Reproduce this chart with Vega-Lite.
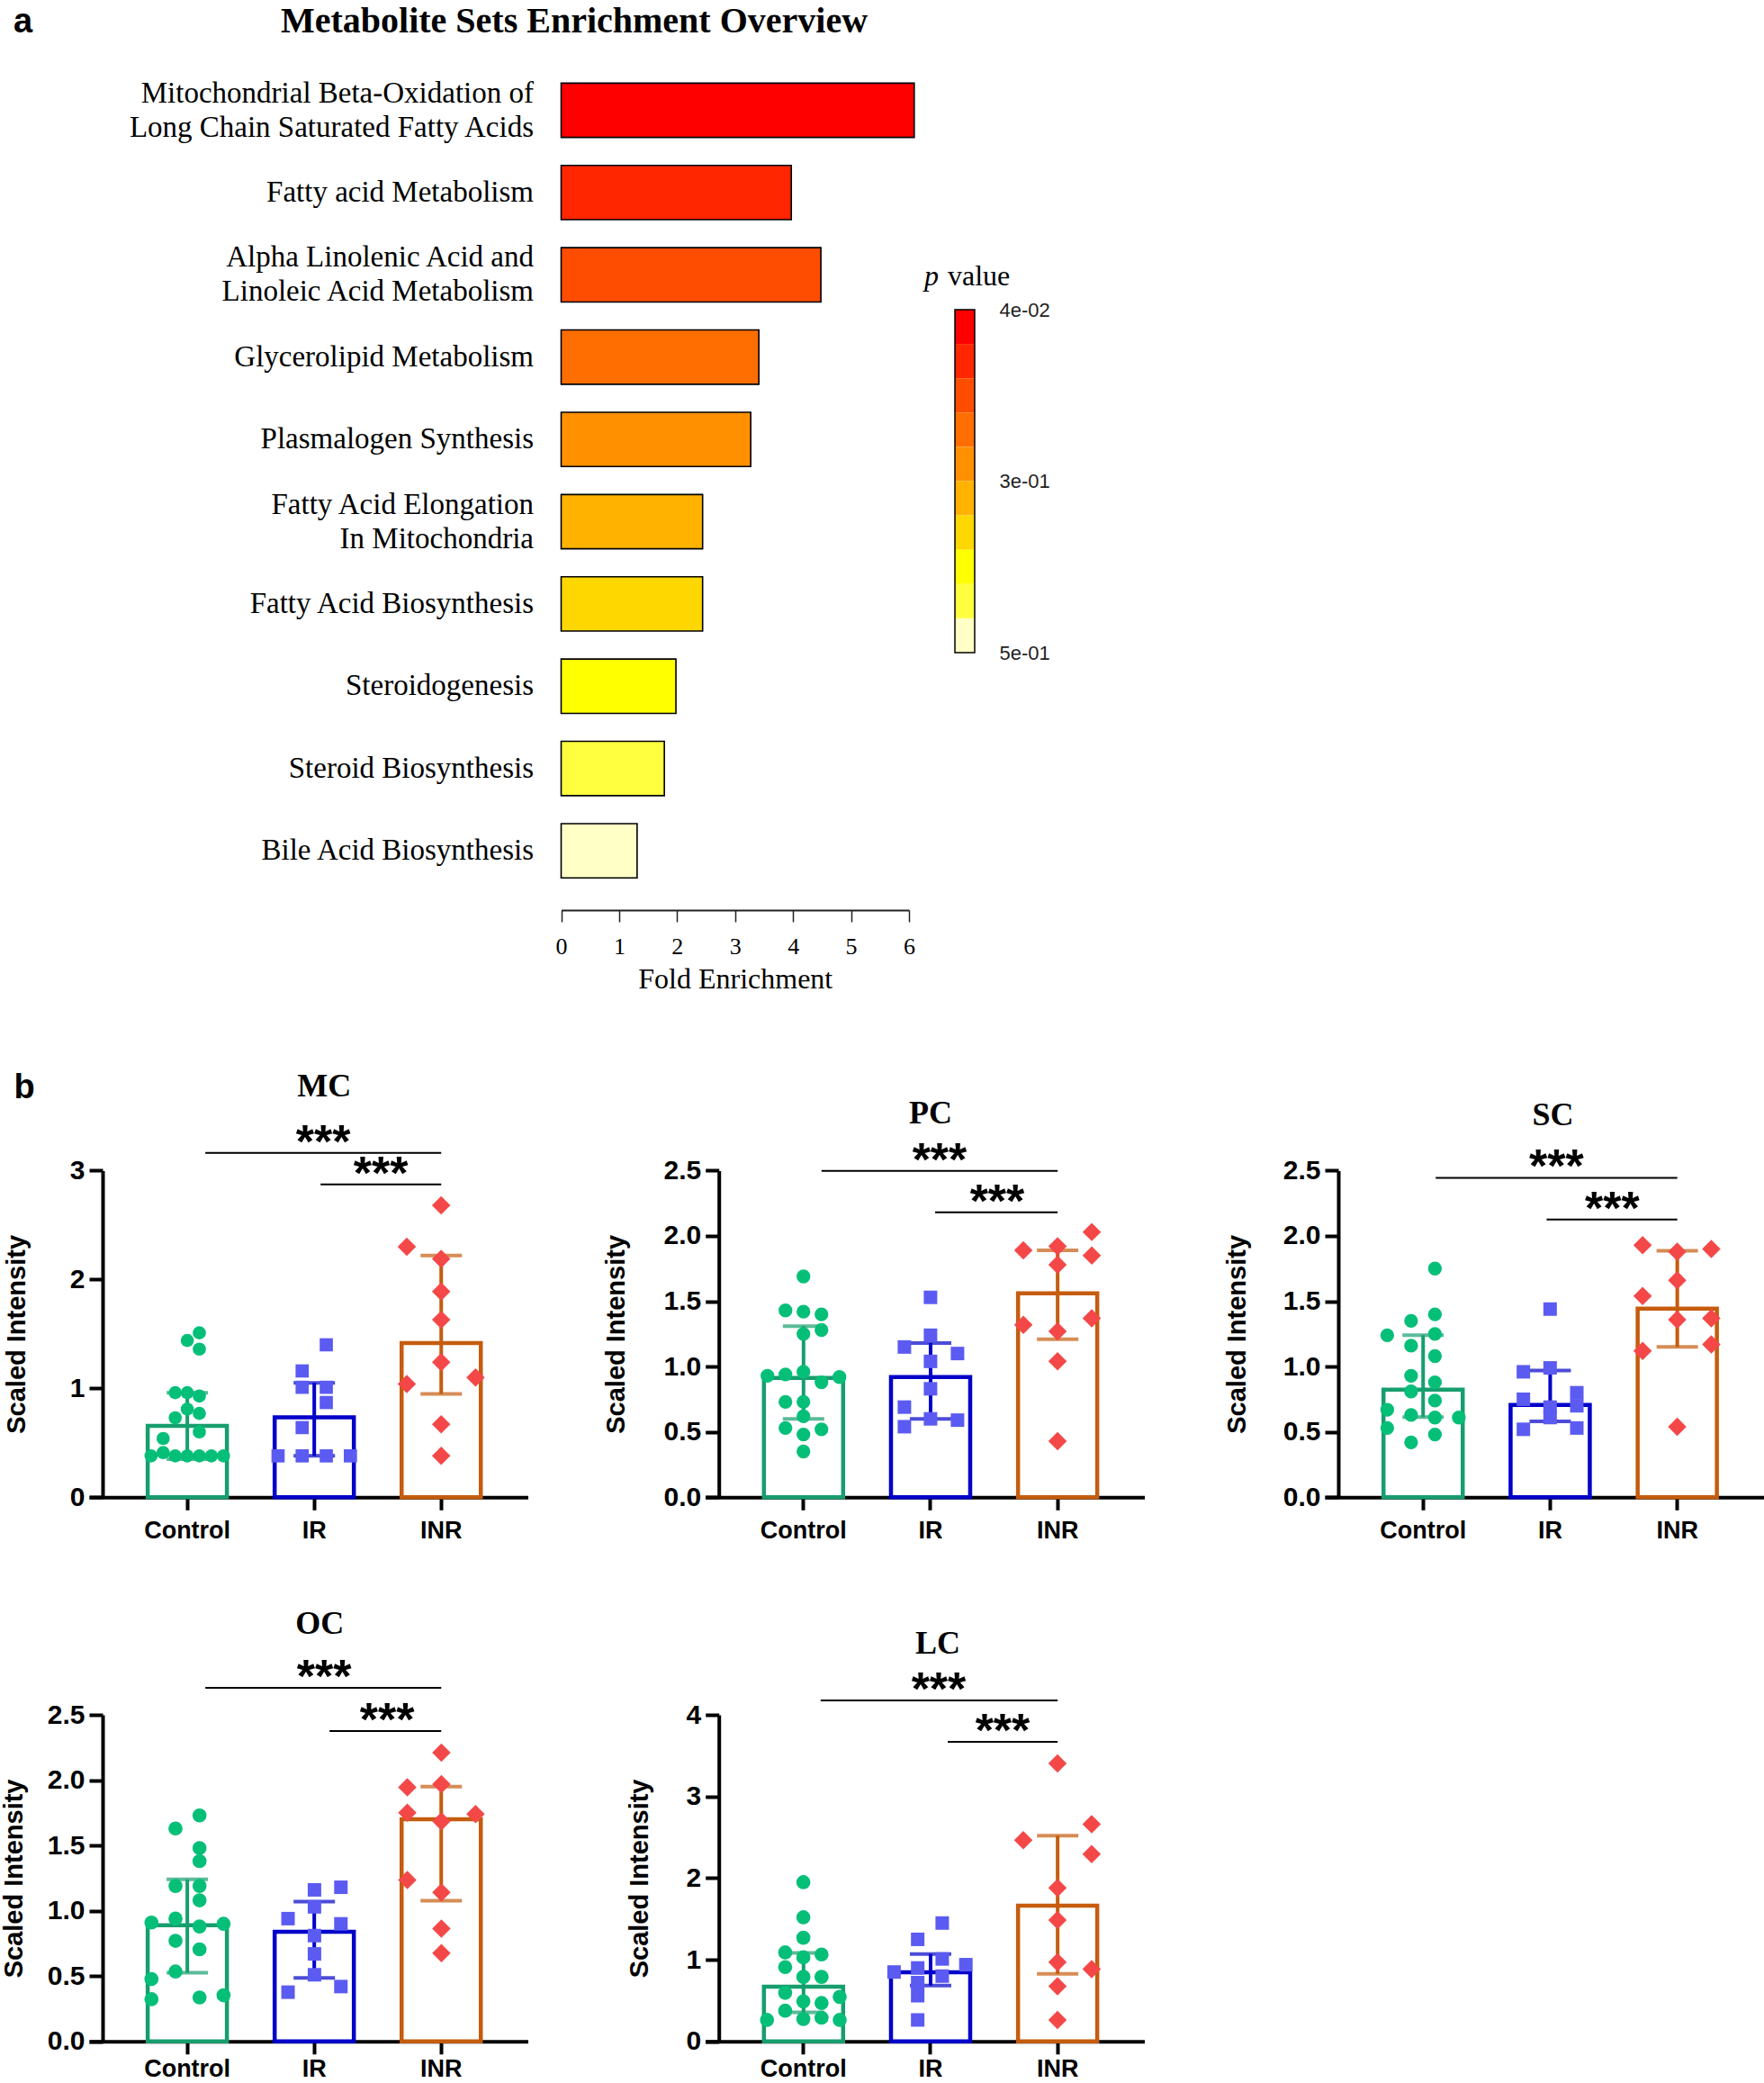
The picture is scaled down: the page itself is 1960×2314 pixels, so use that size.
{
"$schema": "https://vega.github.io/schema/vega-lite/v6.json",
"width": 1960, "height": 2314, "autosize": {"type": "none"}, "padding": 0, "background": "white",
"config": {"view": {"stroke": null},
 "axis": {"domainColor": "black", "domainWidth": 4, "tickColor": "black", "tickWidth": 4, "tickSize": 14, "labelFont": "Liberation Sans", "labelFontWeight": "bold", "labelFontSize": 30, "labelColor": "black", "titleFont": "Liberation Sans", "titleFontWeight": "bold", "titleFontSize": 29, "titleColor": "black", "grid": false, "labelFlush": false, "labelOverlap": false, "zindex": 1}},
"resolve": {"scale": {"x": "independent", "y": "independent", "fill": "independent", "xOffset": "independent", "stroke": "independent", "color": "independent", "shape": "independent", "size": "independent"}},
"datasets": {
 "paths": [
  {"pathway": "Mitochondrial Beta-Oxidation of\u00a0\u00a0\u00a0|Long Chain Saturated Fatty Acids", "fold": 6.09, "p": 0.063},
  {"pathway": "Fatty acid Metabolism", "fold": 3.97, "p": 0.109},
  {"pathway": "Alpha Linolenic Acid and|Linoleic Acid Metabolism", "fold": 4.48, "p": 0.155},
  {"pathway": "Glycerolipid Metabolism", "fold": 3.41, "p": 0.201},
  {"pathway": "Plasmalogen Synthesis", "fold": 3.27, "p": 0.247},
  {"pathway": "Fatty Acid Elongation|In Mitochondria\u00a0\u00a0\u00a0\u00a0\u00a0\u00a0\u00a0\u00a0\u00a0", "fold": 2.44, "p": 0.293},
  {"pathway": "Fatty Acid Biosynthesis", "fold": 2.44, "p": 0.339},
  {"pathway": "Steroidogenesis", "fold": 1.98, "p": 0.385},
  {"pathway": "Steroid Biosynthesis", "fold": 1.78, "p": 0.431},
  {"pathway": "Bile Acid Biosynthesis", "fold": 1.31, "p": 0.477}
 ],
 "pbins": [
  {"p0": 0.04, "p1": 0.086, "p": 0.063}, {"p0": 0.086, "p1": 0.132, "p": 0.109}, {"p0": 0.132, "p1": 0.178, "p": 0.155},
  {"p0": 0.178, "p1": 0.224, "p": 0.201}, {"p0": 0.224, "p1": 0.27, "p": 0.247}, {"p0": 0.27, "p1": 0.316, "p": 0.293},
  {"p0": 0.316, "p1": 0.362, "p": 0.339}, {"p0": 0.362, "p1": 0.408, "p": 0.385}, {"p0": 0.408, "p1": 0.454, "p": 0.431},
  {"p0": 0.454, "p1": 0.5, "p": 0.477}
 ],
 "mc_sum": [{"group": "Control", "mean": 0.655, "lo": 0.35, "hi": 0.96}, {"group": "IR", "mean": 0.735, "lo": 0.38, "hi": 1.05}, {"group": "INR", "mean": 1.416, "lo": 0.95, "hi": 2.22}],
 "mc_pts": [
  {"group": "Control", "slot": -3, "value": 0.38}, {"group": "Control", "slot": -2, "value": 0.41}, {"group": "Control", "slot": -1, "value": 0.38},
  {"group": "Control", "slot": 0, "value": 0.38}, {"group": "Control", "slot": 1, "value": 0.38}, {"group": "Control", "slot": 2, "value": 0.38},
  {"group": "Control", "slot": 3, "value": 0.38}, {"group": "Control", "slot": -2, "value": 0.54}, {"group": "Control", "slot": 1, "value": 0.6},
  {"group": "Control", "slot": -1, "value": 0.73}, {"group": "Control", "slot": 0, "value": 0.81}, {"group": "Control", "slot": 1, "value": 0.77},
  {"group": "Control", "slot": -1, "value": 0.96}, {"group": "Control", "slot": 0, "value": 0.96}, {"group": "Control", "slot": 1, "value": 0.93},
  {"group": "Control", "slot": 0, "value": 1.44}, {"group": "Control", "slot": 1, "value": 1.51}, {"group": "Control", "slot": 1, "value": 1.36},
  {"group": "IR", "slot": -3, "value": 0.38}, {"group": "IR", "slot": -1, "value": 0.38}, {"group": "IR", "slot": 1, "value": 0.38},
  {"group": "IR", "slot": 3, "value": 0.38}, {"group": "IR", "slot": -1, "value": 0.64}, {"group": "IR", "slot": 1, "value": 0.87},
  {"group": "IR", "slot": -1, "value": 1.01}, {"group": "IR", "slot": 1, "value": 1.01}, {"group": "IR", "slot": -1, "value": 1.16},
  {"group": "IR", "slot": 1, "value": 1.4},
  {"group": "INR", "slot": 0, "value": 2.68}, {"group": "INR", "slot": -2.85, "value": 2.3}, {"group": "INR", "slot": 0, "value": 2.19},
  {"group": "INR", "slot": 0, "value": 1.89}, {"group": "INR", "slot": 0, "value": 1.63}, {"group": "INR", "slot": 0, "value": 1.24},
  {"group": "INR", "slot": -2.85, "value": 1.04}, {"group": "INR", "slot": 2.85, "value": 1.1}, {"group": "INR", "slot": 0, "value": 0.67},
  {"group": "INR", "slot": 0, "value": 0.38}
 ],
 "pc_sum": [{"group": "Control", "mean": 0.913, "lo": 0.6, "hi": 1.31}, {"group": "IR", "mean": 0.92, "lo": 0.6, "hi": 1.18}, {"group": "INR", "mean": 1.56, "lo": 1.21, "hi": 1.89}],
 "pc_pts": [
  {"group": "Control", "slot": 0, "value": 1.69}, {"group": "Control", "slot": -1, "value": 1.43}, {"group": "Control", "slot": 0, "value": 1.42},
  {"group": "Control", "slot": 1, "value": 1.4}, {"group": "Control", "slot": 1, "value": 1.28}, {"group": "Control", "slot": 0, "value": 1.25},
  {"group": "Control", "slot": -2, "value": 0.93}, {"group": "Control", "slot": -1, "value": 0.94}, {"group": "Control", "slot": 0, "value": 0.96},
  {"group": "Control", "slot": 1, "value": 0.88}, {"group": "Control", "slot": 2, "value": 0.92}, {"group": "Control", "slot": -1, "value": 0.73},
  {"group": "Control", "slot": 0, "value": 0.73}, {"group": "Control", "slot": 0, "value": 0.62}, {"group": "Control", "slot": -1, "value": 0.53},
  {"group": "Control", "slot": 1, "value": 0.52}, {"group": "Control", "slot": 0, "value": 0.48}, {"group": "Control", "slot": 0, "value": 0.35},
  {"group": "IR", "slot": 0, "value": 1.53}, {"group": "IR", "slot": 0, "value": 1.24}, {"group": "IR", "slot": -1.45, "value": 1.15},
  {"group": "IR", "slot": 1.5, "value": 1.1}, {"group": "IR", "slot": 0, "value": 1.04}, {"group": "IR", "slot": 0, "value": 0.83},
  {"group": "IR", "slot": -1.45, "value": 0.69}, {"group": "IR", "slot": -1.45, "value": 0.54}, {"group": "IR", "slot": 0, "value": 0.6},
  {"group": "IR", "slot": 1.5, "value": 0.59},
  {"group": "INR", "slot": 1.9, "value": 2.03}, {"group": "INR", "slot": -1.9, "value": 1.89}, {"group": "INR", "slot": 0, "value": 1.92},
  {"group": "INR", "slot": 1.9, "value": 1.85}, {"group": "INR", "slot": 0, "value": 1.78}, {"group": "INR", "slot": 1.9, "value": 1.37},
  {"group": "INR", "slot": -1.9, "value": 1.32}, {"group": "INR", "slot": 0, "value": 1.27}, {"group": "INR", "slot": 0, "value": 1.04},
  {"group": "INR", "slot": 0, "value": 0.43}
 ],
 "sc_sum": [{"group": "Control", "mean": 0.824, "lo": 0.614, "hi": 1.24}, {"group": "IR", "mean": 0.707, "lo": 0.58, "hi": 0.97}, {"group": "INR", "mean": 1.443, "lo": 1.15, "hi": 1.886}],
 "sc_pts": [
  {"group": "Control", "slot": 0.5, "value": 1.75}, {"group": "Control", "slot": 0.5, "value": 1.4}, {"group": "Control", "slot": -0.5, "value": 1.35},
  {"group": "Control", "slot": -1.5, "value": 1.24}, {"group": "Control", "slot": 0.5, "value": 1.25}, {"group": "Control", "slot": -0.5, "value": 1.16},
  {"group": "Control", "slot": 0.5, "value": 1.08}, {"group": "Control", "slot": -0.5, "value": 0.93}, {"group": "Control", "slot": 0.5, "value": 0.88},
  {"group": "Control", "slot": -0.5, "value": 0.81}, {"group": "Control", "slot": 0.5, "value": 0.74}, {"group": "Control", "slot": -1.5, "value": 0.67},
  {"group": "Control", "slot": -0.5, "value": 0.63}, {"group": "Control", "slot": 0.5, "value": 0.61}, {"group": "Control", "slot": 1.5, "value": 0.61},
  {"group": "Control", "slot": -1.5, "value": 0.53}, {"group": "Control", "slot": 0.5, "value": 0.48}, {"group": "Control", "slot": -0.5, "value": 0.42},
  {"group": "IR", "slot": 0, "value": 1.44}, {"group": "IR", "slot": 0, "value": 0.99}, {"group": "IR", "slot": -1.12, "value": 0.96},
  {"group": "IR", "slot": 1.12, "value": 0.8}, {"group": "IR", "slot": -1.12, "value": 0.75}, {"group": "IR", "slot": 0, "value": 0.69},
  {"group": "IR", "slot": 1.12, "value": 0.7}, {"group": "IR", "slot": 0, "value": 0.61}, {"group": "IR", "slot": -1.12, "value": 0.52},
  {"group": "IR", "slot": 1.12, "value": 0.53},
  {"group": "INR", "slot": -1.45, "value": 1.93}, {"group": "INR", "slot": 0, "value": 1.88}, {"group": "INR", "slot": 1.43, "value": 1.9},
  {"group": "INR", "slot": 0, "value": 1.66}, {"group": "INR", "slot": -1.45, "value": 1.54}, {"group": "INR", "slot": 0, "value": 1.36},
  {"group": "INR", "slot": 1.43, "value": 1.37}, {"group": "INR", "slot": -1.45, "value": 1.12}, {"group": "INR", "slot": 1.43, "value": 1.17},
  {"group": "INR", "slot": 0, "value": 0.54}
 ],
 "oc_sum": [{"group": "Control", "mean": 0.89, "lo": 0.525, "hi": 1.24}, {"group": "IR", "mean": 0.84, "lo": 0.486, "hi": 1.07}, {"group": "INR", "mean": 1.7, "lo": 1.077, "hi": 1.95}],
 "oc_pts": [
  {"group": "Control", "slot": 0.5, "value": 1.73}, {"group": "Control", "slot": -0.5, "value": 1.63}, {"group": "Control", "slot": 0.5, "value": 1.48},
  {"group": "Control", "slot": 0.5, "value": 1.38}, {"group": "Control", "slot": -0.5, "value": 1.19}, {"group": "Control", "slot": 0.5, "value": 1.19},
  {"group": "Control", "slot": 0.5, "value": 1.08}, {"group": "Control", "slot": -1.5, "value": 0.91}, {"group": "Control", "slot": -0.5, "value": 0.94},
  {"group": "Control", "slot": 0.5, "value": 0.88}, {"group": "Control", "slot": 1.5, "value": 0.9}, {"group": "Control", "slot": -0.5, "value": 0.77},
  {"group": "Control", "slot": 0.5, "value": 0.705}, {"group": "Control", "slot": -0.5, "value": 0.535}, {"group": "Control", "slot": -1.5, "value": 0.477},
  {"group": "Control", "slot": -1.5, "value": 0.323}, {"group": "Control", "slot": 0.5, "value": 0.336}, {"group": "Control", "slot": 1.5, "value": 0.353},
  {"group": "IR", "slot": 1.1, "value": 1.18}, {"group": "IR", "slot": 0, "value": 1.16}, {"group": "IR", "slot": 0, "value": 1.03},
  {"group": "IR", "slot": -1.1, "value": 0.94}, {"group": "IR", "slot": 1.1, "value": 0.9}, {"group": "IR", "slot": 0, "value": 0.81},
  {"group": "IR", "slot": 0, "value": 0.67}, {"group": "IR", "slot": 0, "value": 0.51}, {"group": "IR", "slot": 1.1, "value": 0.42},
  {"group": "IR", "slot": -1.1, "value": 0.377},
  {"group": "INR", "slot": 0, "value": 2.21}, {"group": "INR", "slot": 0, "value": 1.97}, {"group": "INR", "slot": -1.42, "value": 1.945},
  {"group": "INR", "slot": -1.42, "value": 1.75}, {"group": "INR", "slot": 1.42, "value": 1.74}, {"group": "INR", "slot": 0, "value": 1.685},
  {"group": "INR", "slot": -1.42, "value": 1.235}, {"group": "INR", "slot": 0, "value": 1.14}, {"group": "INR", "slot": 0, "value": 0.863},
  {"group": "INR", "slot": 0, "value": 0.676}
 ],
 "lc_sum": [{"group": "Control", "mean": 0.67, "lo": 0.357, "hi": 1.084}, {"group": "IR", "mean": 0.847, "lo": 0.685, "hi": 1.07}, {"group": "INR", "mean": 1.663, "lo": 0.828, "hi": 2.52}],
 "lc_pts": [
  {"group": "Control", "slot": 0, "value": 1.95}, {"group": "Control", "slot": 0, "value": 1.52}, {"group": "Control", "slot": 0, "value": 1.27},
  {"group": "Control", "slot": -1, "value": 1.09}, {"group": "Control", "slot": 0, "value": 1.03}, {"group": "Control", "slot": 1, "value": 1.065},
  {"group": "Control", "slot": -1, "value": 0.91}, {"group": "Control", "slot": 0, "value": 0.79}, {"group": "Control", "slot": 1, "value": 0.79},
  {"group": "Control", "slot": -1, "value": 0.595}, {"group": "Control", "slot": 2, "value": 0.545}, {"group": "Control", "slot": 0, "value": 0.49},
  {"group": "Control", "slot": 1, "value": 0.47}, {"group": "Control", "slot": -1, "value": 0.376}, {"group": "Control", "slot": -2, "value": 0.263},
  {"group": "Control", "slot": 0, "value": 0.275}, {"group": "Control", "slot": 1, "value": 0.29}, {"group": "Control", "slot": 2, "value": 0.263},
  {"group": "IR", "slot": 0.65, "value": 1.45}, {"group": "IR", "slot": -0.7, "value": 1.25}, {"group": "IR", "slot": 0.65, "value": 1.01},
  {"group": "IR", "slot": 1.95, "value": 0.94}, {"group": "IR", "slot": -0.7, "value": 0.9}, {"group": "IR", "slot": -2, "value": 0.85},
  {"group": "IR", "slot": 0.65, "value": 0.8}, {"group": "IR", "slot": -0.7, "value": 0.72}, {"group": "IR", "slot": -0.7, "value": 0.56},
  {"group": "IR", "slot": -0.7, "value": 0.263},
  {"group": "INR", "slot": 0, "value": 3.405}, {"group": "INR", "slot": 1.88, "value": 2.66}, {"group": "INR", "slot": -1.88, "value": 2.465},
  {"group": "INR", "slot": 1.88, "value": 2.295}, {"group": "INR", "slot": 0, "value": 1.88}, {"group": "INR", "slot": 0, "value": 1.486},
  {"group": "INR", "slot": 0, "value": 0.97}, {"group": "INR", "slot": 1.88, "value": 0.884}, {"group": "INR", "slot": 0, "value": 0.677},
  {"group": "INR", "slot": 0, "value": 0.263}
 ]
},
"layer": [
 {
  "resolve": {"scale": {"y": "independent"}},
  "layer": [
   {"layer": [
    {"data": {"name": "paths"}, "mark": {"type": "bar", "stroke": "black", "strokeWidth": 1.6},
     "encoding": {
      "y": {"field": "pathway", "type": "nominal", "sort": null, "axis": null,
       "scale": {"domain": ["Mitochondrial Beta-Oxidation of\u00a0\u00a0\u00a0|Long Chain Saturated Fatty Acids", "Fatty acid Metabolism", "Alpha Linolenic Acid and|Linoleic Acid Metabolism", "Glycerolipid Metabolism", "Plasmalogen Synthesis", "Fatty Acid Elongation|In Mitochondria\u00a0\u00a0\u00a0\u00a0\u00a0\u00a0\u00a0\u00a0\u00a0", "Fatty Acid Biosynthesis", "Steroidogenesis", "Steroid Biosynthesis", "Bile Acid Biosynthesis"], "range": [76.8, 990.8], "paddingInner": 0.34, "paddingOuter": 0.17}},
      "x": {"field": "fold", "type": "quantitative", "scale": {"domain": [0, 6], "range": [623.5, 1010], "nice": false},
       "axis": {"orient": "bottom", "offset": -1303, "values": [0, 1, 2, 3, 4, 5, 6], "format": "d", "title": "Fold Enrichment", "domainWidth": 2, "domainColor": "#222", "tickWidth": 1.5, "tickColor": "#222", "tickSize": 13, "labelFont": "Liberation Serif", "labelFontWeight": "normal", "labelFontSize": 26, "labelPadding": 14, "titleFont": "Liberation Serif", "titleFontWeight": "normal", "titleFontSize": 32, "titlePadding": 8, "zindex": 0}},
      "fill": {"field": "p", "type": "quantitative", "scale": {"type": "quantize", "domain": [0.04, 0.5], "nice": false, "zero": false, "range": ["#FF0000", "#FF2600", "#FF4D00", "#FF6E00", "#FF9000", "#FFB300", "#FFD700", "#FFFF00", "#FFFF40", "#FFFFC6"]}, "legend": null}
     }},
    {"data": {"name": "paths"}, "transform": [{"filter": "indexof(datum.pathway, '|') < 0"}],
     "mark": {"type": "text", "align": "right", "baseline": "middle", "font": "Liberation Serif", "fontSize": 33, "color": "black"},
     "encoding": {"y": {"field": "pathway", "type": "nominal", "sort": null, "axis": null}, "x": {"datum": -0.4735}, "text": {"field": "pathway"}}},
    {"data": {"name": "paths"}, "transform": [{"filter": "indexof(datum.pathway, '|') >= 0"}],
     "mark": {"type": "text", "align": "right", "baseline": "middle", "font": "Liberation Serif", "fontSize": 33, "color": "black", "lineBreak": "|", "lineHeight": 38, "dy": -19},
     "encoding": {"y": {"field": "pathway", "type": "nominal", "sort": null, "axis": null}, "x": {"datum": -0.4735}, "text": {"field": "pathway"}}}
   ]},
   {"layer": [
     {"data": {"name": "pbins"}, "mark": {"type": "rect"},
      "encoding": {
       "x": {"datum": 6.792}, "x2": {"datum": 7.133},
       "y": {"field": "p0", "type": "quantitative", "scale": {"domain": [0.04, 0.5], "range": [344, 725], "nice": false, "zero": false},
        "axis": {"orient": "right", "offset": -877, "domain": false, "ticks": false, "values": [0.04, 0.27, 0.5], "labelExpr": "replace(format(datum.value, '.0e'), 'e-', 'e-0')", "labelFont": "Liberation Sans", "labelFontWeight": "normal", "labelFontSize": 22, "labelColor": "#222", "labelPadding": 27, "title": null}},
       "y2": {"field": "p1"},
       "fill": {"field": "p", "type": "quantitative", "scale": {"type": "quantize", "domain": [0.04, 0.5], "nice": false, "zero": false, "range": ["#FF0000", "#FF2600", "#FF4D00", "#FF6E00", "#FF9000", "#FFB300", "#FFD700", "#FFFF00", "#FFFF40", "#FFFFC6"]}, "legend": null}
      }},
     {"data": {"values": [{}]}, "mark": {"type": "rect", "fill": "transparent", "stroke": "black", "strokeWidth": 1.5},
      "encoding": {"x": {"datum": 6.792}, "x2": {"datum": 7.133}, "y": {"datum": 0.04}, "y2": {"datum": 0.5}}},
     {"data": {"values": [{}]}, "mark": {"type": "text", "text": "p", "font": "Liberation Serif", "fontStyle": "italic", "fontSize": 32, "align": "left", "baseline": "alphabetic", "color": "black"},
      "encoding": {"x": {"datum": 6.264}, "y": {"datum": 0.0074}}},
     {"data": {"values": [{}]}, "mark": {"type": "text", "text": "value", "font": "Liberation Serif", "fontSize": 32, "align": "left", "baseline": "alphabetic", "color": "black"},
      "encoding": {"x": {"datum": 6.668}, "y": {"datum": 0.0074}}},
     {"data": {"values": [{}]}, "mark": {"type": "text", "text": "Metabolite Sets Enrichment Overview", "font": "Liberation Serif", "fontWeight": "bold", "fontSize": 40, "align": "center", "baseline": "alphabetic", "color": "black"},
      "encoding": {"x": {"datum": 0.225}, "y": {"datum": -0.3319}}},
     {"data": {"values": [{}]}, "mark": {"type": "text", "text": "a", "font": "Liberation Sans", "fontWeight": "bold", "fontSize": 38, "align": "left", "baseline": "alphabetic", "color": "black"},
      "encoding": {"x": {"datum": -9.446}, "y": {"datum": -0.3322}}},
     {"data": {"values": [{}]}, "mark": {"type": "text", "text": "b", "font": "Liberation Sans", "fontWeight": "bold", "fontSize": 38, "align": "left", "baseline": "alphabetic", "color": "black"},
      "encoding": {"x": {"datum": -9.437}, "y": {"datum": 1.0976}}}
   ]}
  ]
 },
 {
  "layer": [
   {"data": {"name": "mc_sum"}, "mark": {"type": "bar", "fill": "white", "strokeWidth": 4.5, "width": 88},
    "encoding": {
     "x": {"field": "group", "type": "nominal", "sort": null, "scale": {"domain": ["Control", "IR", "INR"], "range": [99, 586.5], "paddingInner": 0, "paddingOuter": 0.228, "align": 0.6},
      "axis": {"orient": "bottom", "offset": -650.7, "title": null, "labelAngle": 0, "labelFontSize": 27, "labelPadding": 10}},
     "y": {"field": "mean", "type": "quantitative", "scale": {"domain": [0, 3], "range": [1663.3, 1300.4], "nice": false},
      "axis": {"orient": "left", "offset": -114, "values": [0, 1, 2, 3], "format": "d", "title": "Scaled Intensity", "titlePadding": 44, "tickSize": 15, "labelPadding": 5}},
     "stroke": {"field": "group", "type": "nominal", "scale": {"domain": ["Control", "IR", "INR"], "range": ["#179E6E", "#0000C8", "#C55C0E"]}, "legend": null}
    }},
   {"data": {"name": "mc_sum"}, "mark": {"type": "rule", "strokeWidth": 4},
    "encoding": {"x": {"field": "group", "type": "nominal"}, "y": {"field": "lo", "type": "quantitative"}, "y2": {"field": "hi"},
     "color": {"field": "group", "type": "nominal", "scale": {"domain": ["Control", "IR", "INR"], "range": ["#179E6E", "#0000C8", "#C55C0E"]}, "legend": null}}},
   {"data": {"name": "mc_sum"}, "mark": {"type": "tick", "thickness": 4, "size": 46},
    "encoding": {"x": {"field": "group", "type": "nominal"}, "y": {"field": "lo", "type": "quantitative"},
     "color": {"field": "group", "type": "nominal", "legend": null}}},
   {"data": {"name": "mc_sum"}, "mark": {"type": "tick", "thickness": 4, "size": 46},
    "encoding": {"x": {"field": "group", "type": "nominal"}, "y": {"field": "hi", "type": "quantitative"},
     "color": {"field": "group", "type": "nominal", "legend": null}}},
   {"data": {"name": "mc_pts"}, "mark": {"type": "point", "filled": true, "opacity": 1, "strokeWidth": 0},
    "encoding": {"x": {"field": "group", "type": "nominal"},
     "xOffset": {"field": "slot", "type": "quantitative", "scale": {"domain": [-3, 3], "range": [30.3, 110.7], "zero": false, "nice": false}},
     "y": {"field": "value", "type": "quantitative"},
     "fill": {"field": "group", "type": "nominal", "scale": {"domain": ["Control", "IR", "INR"], "range": ["#05BF78", "#5B5BF2", "#F44848"]}, "legend": null},
     "shape": {"field": "group", "type": "nominal", "scale": {"domain": ["Control", "IR", "INR"], "range": ["circle", "square", "diamond"]}, "legend": null},
     "size": {"field": "group", "type": "nominal", "scale": {"type": "ordinal", "domain": ["Control", "IR", "INR"], "range": [215, 215, 420]}, "legend": null}}},
   {"data": {"values": [{}]}, "mark": {"type": "rule", "strokeWidth": 2, "color": "black", "xOffset": 20},
    "encoding": {"x": {"datum": "Control"}, "x2": {"datum": "INR"}, "y": {"datum": 3.162}}},
   {"data": {"values": [{}]}, "mark": {"type": "rule", "strokeWidth": 2, "color": "black", "xOffset": 7},
    "encoding": {"x": {"datum": "IR"}, "x2": {"datum": "INR"}, "y": {"datum": 2.873}}},
   {"data": {"values": [{}]}, "mark": {"type": "text", "text": "***", "font": "Liberation Sans", "fontWeight": "bold", "fontSize": 52, "align": "center", "baseline": "alphabetic", "dx": 10, "dy": 5, "color": "black"},
    "encoding": {"x": {"datum": "IR"}, "y": {"datum": 3.162}}},
   {"data": {"values": [{}]}, "mark": {"type": "text", "text": "***", "font": "Liberation Sans", "fontWeight": "bold", "fontSize": 52, "align": "center", "baseline": "alphabetic", "dx": 74, "dy": 5, "color": "black"},
    "encoding": {"x": {"datum": "IR"}, "y": {"datum": 2.873}}},
   {"data": {"values": [{}]}, "mark": {"type": "text", "text": "MC", "font": "Liberation Serif", "fontWeight": "bold", "fontSize": 36, "align": "center", "baseline": "alphabetic", "dx": 11, "color": "black"},
    "encoding": {"x": {"datum": "IR"}, "y": {"datum": 3.683}}}
  ]
 },
 {
  "layer": [
   {"data": {"name": "pc_sum"}, "mark": {"type": "bar", "fill": "white", "strokeWidth": 4.5, "width": 88},
    "encoding": {
     "x": {"field": "group", "type": "nominal", "sort": null, "scale": {"domain": ["Control", "IR", "INR"], "range": [783.6, 1271.5], "paddingInner": 0, "paddingOuter": 0.228, "align": 0.6},
      "axis": {"orient": "bottom", "offset": -650.7, "title": null, "labelAngle": 0, "labelFontSize": 27, "labelPadding": 10}},
     "y": {"field": "mean", "type": "quantitative", "scale": {"domain": [0, 2.5], "range": [1663.3, 1300.4], "nice": false},
      "axis": {"orient": "left", "offset": -798.7, "values": [0, 0.5, 1, 1.5, 2, 2.5], "format": ".1f", "title": "Scaled Intensity", "titlePadding": 37, "tickSize": 15, "labelPadding": 5}},
     "stroke": {"field": "group", "type": "nominal", "scale": {"domain": ["Control", "IR", "INR"], "range": ["#179E6E", "#0000C8", "#C55C0E"]}, "legend": null}
    }},
   {"data": {"name": "pc_sum"}, "mark": {"type": "rule", "strokeWidth": 4},
    "encoding": {"x": {"field": "group", "type": "nominal"}, "y": {"field": "lo", "type": "quantitative"}, "y2": {"field": "hi"},
     "color": {"field": "group", "type": "nominal", "scale": {"domain": ["Control", "IR", "INR"], "range": ["#179E6E", "#0000C8", "#C55C0E"]}, "legend": null}}},
   {"data": {"name": "pc_sum"}, "mark": {"type": "tick", "thickness": 4, "size": 46},
    "encoding": {"x": {"field": "group", "type": "nominal"}, "y": {"field": "lo", "type": "quantitative"},
     "color": {"field": "group", "type": "nominal", "legend": null}}},
   {"data": {"name": "pc_sum"}, "mark": {"type": "tick", "thickness": 4, "size": 46},
    "encoding": {"x": {"field": "group", "type": "nominal"}, "y": {"field": "hi", "type": "quantitative"},
     "color": {"field": "group", "type": "nominal", "legend": null}}},
   {"data": {"name": "pc_pts"}, "mark": {"type": "point", "filled": true, "opacity": 1, "strokeWidth": 0},
    "encoding": {"x": {"field": "group", "type": "nominal"},
     "xOffset": {"field": "slot", "type": "quantitative", "scale": {"domain": [-3, 3], "range": [10.5, 130.5], "zero": false, "nice": false}},
     "y": {"field": "value", "type": "quantitative"},
     "fill": {"field": "group", "type": "nominal", "scale": {"domain": ["Control", "IR", "INR"], "range": ["#05BF78", "#5B5BF2", "#F44848"]}, "legend": null},
     "shape": {"field": "group", "type": "nominal", "scale": {"domain": ["Control", "IR", "INR"], "range": ["circle", "square", "diamond"]}, "legend": null},
     "size": {"field": "group", "type": "nominal", "scale": {"type": "ordinal", "domain": ["Control", "IR", "INR"], "range": [235, 225, 420]}, "legend": null}}},
   {"data": {"values": [{}]}, "mark": {"type": "rule", "strokeWidth": 2, "color": "black", "xOffset": 20},
    "encoding": {"x": {"datum": "Control"}, "x2": {"datum": "INR"}, "y": {"datum": 2.497}}},
   {"data": {"values": [{}]}, "mark": {"type": "rule", "strokeWidth": 2, "color": "black", "xOffset": 5},
    "encoding": {"x": {"datum": "IR"}, "x2": {"datum": "INR"}, "y": {"datum": 2.18}}},
   {"data": {"values": [{}]}, "mark": {"type": "text", "text": "***", "font": "Liberation Sans", "fontWeight": "bold", "fontSize": 52, "align": "center", "baseline": "alphabetic", "dx": 10, "dy": 5, "color": "black"},
    "encoding": {"x": {"datum": "IR"}, "y": {"datum": 2.497}}},
   {"data": {"values": [{}]}, "mark": {"type": "text", "text": "***", "font": "Liberation Sans", "fontWeight": "bold", "fontSize": 52, "align": "center", "baseline": "alphabetic", "dx": 74, "dy": 5, "color": "black"},
    "encoding": {"x": {"datum": "IR"}, "y": {"datum": 2.18}}},
   {"data": {"values": [{}]}, "mark": {"type": "text", "text": "PC", "font": "Liberation Serif", "fontWeight": "bold", "fontSize": 36, "align": "center", "baseline": "alphabetic", "dx": 0, "color": "black"},
    "encoding": {"x": {"datum": "IR"}, "y": {"datum": 2.863}}}
  ]
 },
 {
  "layer": [
   {"data": {"name": "sc_sum"}, "mark": {"type": "bar", "fill": "white", "strokeWidth": 4.5, "width": 88},
    "encoding": {
     "x": {"field": "group", "type": "nominal", "sort": null, "scale": {"domain": ["Control", "IR", "INR"], "range": [1472, 1960], "paddingInner": 0, "paddingOuter": 0.228, "align": 0.6},
      "axis": {"orient": "bottom", "offset": -650.7, "title": null, "labelAngle": 0, "labelFontSize": 27, "labelPadding": 10}},
     "y": {"field": "mean", "type": "quantitative", "scale": {"domain": [0, 2.5], "range": [1663.3, 1300.4], "nice": false},
      "axis": {"orient": "left", "offset": -1487, "values": [0, 0.5, 1, 1.5, 2, 2.5], "format": ".1f", "title": "Scaled Intensity", "titlePadding": 36, "tickSize": 15, "labelPadding": 5}},
     "stroke": {"field": "group", "type": "nominal", "scale": {"domain": ["Control", "IR", "INR"], "range": ["#179E6E", "#0000C8", "#C55C0E"]}, "legend": null}
    }},
   {"data": {"name": "sc_sum"}, "mark": {"type": "rule", "strokeWidth": 4},
    "encoding": {"x": {"field": "group", "type": "nominal"}, "y": {"field": "lo", "type": "quantitative"}, "y2": {"field": "hi"},
     "color": {"field": "group", "type": "nominal", "scale": {"domain": ["Control", "IR", "INR"], "range": ["#179E6E", "#0000C8", "#C55C0E"]}, "legend": null}}},
   {"data": {"name": "sc_sum"}, "mark": {"type": "tick", "thickness": 4, "size": 46},
    "encoding": {"x": {"field": "group", "type": "nominal"}, "y": {"field": "lo", "type": "quantitative"},
     "color": {"field": "group", "type": "nominal", "legend": null}}},
   {"data": {"name": "sc_sum"}, "mark": {"type": "tick", "thickness": 4, "size": 46},
    "encoding": {"x": {"field": "group", "type": "nominal"}, "y": {"field": "hi", "type": "quantitative"},
     "color": {"field": "group", "type": "nominal", "legend": null}}},
   {"data": {"name": "sc_pts"}, "mark": {"type": "point", "filled": true, "opacity": 1, "strokeWidth": 0},
    "encoding": {"x": {"field": "group", "type": "nominal"},
     "xOffset": {"field": "slot", "type": "quantitative", "scale": {"domain": [-3, 3], "range": [-9, 150], "zero": false, "nice": false}},
     "y": {"field": "value", "type": "quantitative"},
     "fill": {"field": "group", "type": "nominal", "scale": {"domain": ["Control", "IR", "INR"], "range": ["#05BF78", "#5B5BF2", "#F44848"]}, "legend": null},
     "shape": {"field": "group", "type": "nominal", "scale": {"domain": ["Control", "IR", "INR"], "range": ["circle", "square", "diamond"]}, "legend": null},
     "size": {"field": "group", "type": "nominal", "scale": {"type": "ordinal", "domain": ["Control", "IR", "INR"], "range": [235, 225, 420]}, "legend": null}}},
   {"data": {"values": [{}]}, "mark": {"type": "rule", "strokeWidth": 2, "color": "black", "xOffset": 14},
    "encoding": {"x": {"datum": "Control"}, "x2": {"datum": "INR"}, "y": {"datum": 2.445}}},
   {"data": {"values": [{}]}, "mark": {"type": "rule", "strokeWidth": 2, "color": "black", "xOffset": -4},
    "encoding": {"x": {"datum": "IR"}, "x2": {"datum": "INR"}, "y": {"datum": 2.125}}},
   {"data": {"values": [{}]}, "mark": {"type": "text", "text": "***", "font": "Liberation Sans", "fontWeight": "bold", "fontSize": 52, "align": "center", "baseline": "alphabetic", "dx": 7, "dy": 5, "color": "black"},
    "encoding": {"x": {"datum": "IR"}, "y": {"datum": 2.445}}},
   {"data": {"values": [{}]}, "mark": {"type": "text", "text": "***", "font": "Liberation Sans", "fontWeight": "bold", "fontSize": 52, "align": "center", "baseline": "alphabetic", "dx": 69, "dy": 5, "color": "black"},
    "encoding": {"x": {"datum": "IR"}, "y": {"datum": 2.125}}},
   {"data": {"values": [{}]}, "mark": {"type": "text", "text": "SC", "font": "Liberation Serif", "fontWeight": "bold", "fontSize": 36, "align": "center", "baseline": "alphabetic", "dx": 3, "color": "black"},
    "encoding": {"x": {"datum": "IR"}, "y": {"datum": 2.848}}}
  ]
 },
 {
  "layer": [
   {"data": {"name": "oc_sum"}, "mark": {"type": "bar", "fill": "white", "strokeWidth": 4.5, "width": 88},
    "encoding": {
     "x": {"field": "group", "type": "nominal", "sort": null, "scale": {"domain": ["Control", "IR", "INR"], "range": [99, 586.5], "paddingInner": 0, "paddingOuter": 0.228, "align": 0.6},
      "axis": {"orient": "bottom", "offset": -46.2, "title": null, "labelAngle": 0, "labelFontSize": 27, "labelPadding": 4}},
     "y": {"field": "mean", "type": "quantitative", "scale": {"domain": [0, 2.5], "range": [2267.8, 1905], "nice": false},
      "axis": {"orient": "left", "offset": -114, "values": [0, 0.5, 1, 1.5, 2, 2.5], "format": ".1f", "title": "Scaled Intensity", "titlePadding": 22, "tickSize": 15, "labelPadding": 5}},
     "stroke": {"field": "group", "type": "nominal", "scale": {"domain": ["Control", "IR", "INR"], "range": ["#179E6E", "#0000C8", "#C55C0E"]}, "legend": null}
    }},
   {"data": {"name": "oc_sum"}, "mark": {"type": "rule", "strokeWidth": 4},
    "encoding": {"x": {"field": "group", "type": "nominal"}, "y": {"field": "lo", "type": "quantitative"}, "y2": {"field": "hi"},
     "color": {"field": "group", "type": "nominal", "scale": {"domain": ["Control", "IR", "INR"], "range": ["#179E6E", "#0000C8", "#C55C0E"]}, "legend": null}}},
   {"data": {"name": "oc_sum"}, "mark": {"type": "tick", "thickness": 4, "size": 46},
    "encoding": {"x": {"field": "group", "type": "nominal"}, "y": {"field": "lo", "type": "quantitative"},
     "color": {"field": "group", "type": "nominal", "legend": null}}},
   {"data": {"name": "oc_sum"}, "mark": {"type": "tick", "thickness": 4, "size": 46},
    "encoding": {"x": {"field": "group", "type": "nominal"}, "y": {"field": "hi", "type": "quantitative"},
     "color": {"field": "group", "type": "nominal", "legend": null}}},
   {"data": {"name": "oc_pts"}, "mark": {"type": "point", "filled": true, "opacity": 1, "strokeWidth": 0},
    "encoding": {"x": {"field": "group", "type": "nominal"},
     "xOffset": {"field": "slot", "type": "quantitative", "scale": {"domain": [-3, 3], "range": [-9.35, 150.85], "zero": false, "nice": false}},
     "y": {"field": "value", "type": "quantitative"},
     "fill": {"field": "group", "type": "nominal", "scale": {"domain": ["Control", "IR", "INR"], "range": ["#05BF78", "#5B5BF2", "#F44848"]}, "legend": null},
     "shape": {"field": "group", "type": "nominal", "scale": {"domain": ["Control", "IR", "INR"], "range": ["circle", "square", "diamond"]}, "legend": null},
     "size": {"field": "group", "type": "nominal", "scale": {"type": "ordinal", "domain": ["Control", "IR", "INR"], "range": [245, 225, 420]}, "legend": null}}},
   {"data": {"values": [{}]}, "mark": {"type": "rule", "strokeWidth": 2, "color": "black", "xOffset": 20},
    "encoding": {"x": {"datum": "Control"}, "x2": {"datum": "INR"}, "y": {"datum": 2.707}}},
   {"data": {"values": [{}]}, "mark": {"type": "rule", "strokeWidth": 2, "color": "black", "xOffset": 17},
    "encoding": {"x": {"datum": "IR"}, "x2": {"datum": "INR"}, "y": {"datum": 2.376}}},
   {"data": {"values": [{}]}, "mark": {"type": "text", "text": "***", "font": "Liberation Sans", "fontWeight": "bold", "fontSize": 52, "align": "center", "baseline": "alphabetic", "dx": 11, "dy": 5, "color": "black"},
    "encoding": {"x": {"datum": "IR"}, "y": {"datum": 2.707}}},
   {"data": {"values": [{}]}, "mark": {"type": "text", "text": "***", "font": "Liberation Sans", "fontWeight": "bold", "fontSize": 52, "align": "center", "baseline": "alphabetic", "dx": 81, "dy": 5, "color": "black"},
    "encoding": {"x": {"datum": "IR"}, "y": {"datum": 2.376}}},
   {"data": {"values": [{}]}, "mark": {"type": "text", "text": "OC", "font": "Liberation Serif", "fontWeight": "bold", "fontSize": 36, "align": "center", "baseline": "alphabetic", "dx": 6, "color": "black"},
    "encoding": {"x": {"datum": "IR"}, "y": {"datum": 3.121}}}
  ]
 },
 {
  "layer": [
   {"data": {"name": "lc_sum"}, "mark": {"type": "bar", "fill": "white", "strokeWidth": 4.5, "width": 88},
    "encoding": {
     "x": {"field": "group", "type": "nominal", "sort": null, "scale": {"domain": ["Control", "IR", "INR"], "range": [783.6, 1271.5], "paddingInner": 0, "paddingOuter": 0.228, "align": 0.6},
      "axis": {"orient": "bottom", "offset": -46.2, "title": null, "labelAngle": 0, "labelFontSize": 27, "labelPadding": 4}},
     "y": {"field": "mean", "type": "quantitative", "scale": {"domain": [0, 4], "range": [2267.8, 1905], "nice": false},
      "axis": {"orient": "left", "offset": -798.7, "values": [0, 1, 2, 3, 4], "format": "d", "title": "Scaled Intensity", "titlePadding": 37, "tickSize": 15, "labelPadding": 5}},
     "stroke": {"field": "group", "type": "nominal", "scale": {"domain": ["Control", "IR", "INR"], "range": ["#179E6E", "#0000C8", "#C55C0E"]}, "legend": null}
    }},
   {"data": {"name": "lc_sum"}, "mark": {"type": "rule", "strokeWidth": 4},
    "encoding": {"x": {"field": "group", "type": "nominal"}, "y": {"field": "lo", "type": "quantitative"}, "y2": {"field": "hi"},
     "color": {"field": "group", "type": "nominal", "scale": {"domain": ["Control", "IR", "INR"], "range": ["#179E6E", "#0000C8", "#C55C0E"]}, "legend": null}}},
   {"data": {"name": "lc_sum"}, "mark": {"type": "tick", "thickness": 4, "size": 46},
    "encoding": {"x": {"field": "group", "type": "nominal"}, "y": {"field": "lo", "type": "quantitative"},
     "color": {"field": "group", "type": "nominal", "legend": null}}},
   {"data": {"name": "lc_sum"}, "mark": {"type": "tick", "thickness": 4, "size": 46},
    "encoding": {"x": {"field": "group", "type": "nominal"}, "y": {"field": "hi", "type": "quantitative"},
     "color": {"field": "group", "type": "nominal", "legend": null}}},
   {"data": {"name": "lc_pts"}, "mark": {"type": "point", "filled": true, "opacity": 1, "strokeWidth": 0},
    "encoding": {"x": {"field": "group", "type": "nominal"},
     "xOffset": {"field": "slot", "type": "quantitative", "scale": {"domain": [-3, 3], "range": [9.8, 131], "zero": false, "nice": false}},
     "y": {"field": "value", "type": "quantitative"},
     "fill": {"field": "group", "type": "nominal", "scale": {"domain": ["Control", "IR", "INR"], "range": ["#05BF78", "#5B5BF2", "#F44848"]}, "legend": null},
     "shape": {"field": "group", "type": "nominal", "scale": {"domain": ["Control", "IR", "INR"], "range": ["circle", "square", "diamond"]}, "legend": null},
     "size": {"field": "group", "type": "nominal", "scale": {"type": "ordinal", "domain": ["Control", "IR", "INR"], "range": [245, 225, 420]}, "legend": null}}},
   {"data": {"values": [{}]}, "mark": {"type": "rule", "strokeWidth": 2, "color": "black", "xOffset": 19},
    "encoding": {"x": {"datum": "Control"}, "x2": {"datum": "INR"}, "y": {"datum": 4.176}}},
   {"data": {"values": [{}]}, "mark": {"type": "rule", "strokeWidth": 2, "color": "black", "xOffset": 19},
    "encoding": {"x": {"datum": "IR"}, "x2": {"datum": "INR"}, "y": {"datum": 3.669}}},
   {"data": {"values": [{}]}, "mark": {"type": "text", "text": "***", "font": "Liberation Sans", "fontWeight": "bold", "fontSize": 52, "align": "center", "baseline": "alphabetic", "dx": 9, "dy": 5, "color": "black"},
    "encoding": {"x": {"datum": "IR"}, "y": {"datum": 4.176}}},
   {"data": {"values": [{}]}, "mark": {"type": "text", "text": "***", "font": "Liberation Sans", "fontWeight": "bold", "fontSize": 52, "align": "center", "baseline": "alphabetic", "dx": 80, "dy": 5, "color": "black"},
    "encoding": {"x": {"datum": "IR"}, "y": {"datum": 3.669}}},
   {"data": {"values": [{}]}, "mark": {"type": "text", "text": "LC", "font": "Liberation Serif", "fontWeight": "bold", "fontSize": 36, "align": "center", "baseline": "alphabetic", "dx": 8, "color": "black"},
    "encoding": {"x": {"datum": "IR"}, "y": {"datum": 4.747}}}
  ]
 }
]
}
